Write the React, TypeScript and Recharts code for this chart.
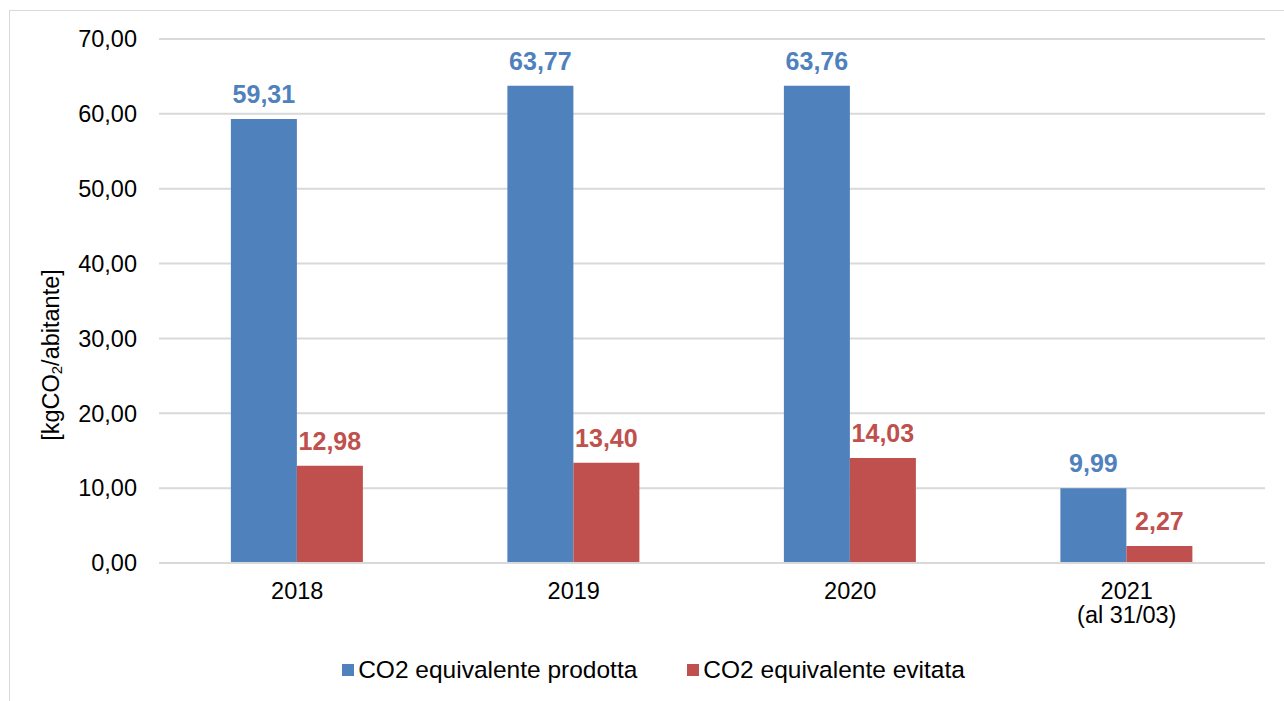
import { BarChart, Bar, XAxis, YAxis, CartesianGrid, Legend, LabelList } from 'recharts';

const years = ['2018', '2019', '2020', '2021'];
const yearNotes = ['', '', '', '(al 31/03)'];
const seriesNames = ['CO2 equivalente prodotta', 'CO2 equivalente evitata'];
const prodotta = [59.31, 63.77, 63.76, 9.99];
const evitata = [12.98, 13.4, 14.03, 2.27];
const yTicks = [0, 10, 20, 30, 40, 50, 60, 70];

const BLUE = '#4f81bd';
const RED = '#c0504d';
const colors = [BLUE, RED];
const FONT = '"Liberation Sans", Arial, sans-serif';
const FS = 23.5;

const data = years.map((y, i) => ({
  year: y,
  prodotta: prodotta[i],
  evitata: evitata[i],
}));

const fmt = (v: number) => v.toFixed(2).replace('.', ',');

function YearTick({ x, y, payload, index }: any) {
  const note = yearNotes[index ?? 0];
  return (
    <g>
      <text x={x} y={y} dy={36} textAnchor="middle" fill="#000" fontSize={FS} fontFamily={FONT}>
        {payload.value}
      </text>
      {note && (
        <text x={x} y={y} dy={60} textAnchor="middle" fill="#000" fontSize={FS} fontFamily={FONT}>
          {note}
        </text>
      )}
    </g>
  );
}

function AxisTitle() {
  const cx = 51;
  const cy = 355;
  return (
    <text
      x={cx}
      y={cy}
      transform={`rotate(-90 ${cx} ${cy})`}
      textAnchor="middle"
      dominantBaseline="central"
      fontSize={FS}
      fontFamily={FONT}
      fill="#000"
    >
      [kgCO<tspan fontSize={15} dy={5}>2</tspan>
      <tspan dy={-5}>/abitante]</tspan>
    </text>
  );
}

function LegendBox() {
  return (
    <div style={{ display: 'flex', justifyContent: 'center', gap: 50, height: 30, alignItems: 'center', paddingLeft: 42 }}>
      {seriesNames.map((name, i) => (
        <div key={name} style={{ display: 'flex', alignItems: 'center', fontFamily: FONT, fontSize: 24.5, color: '#000' }}>
          <span style={{ width: 12, height: 12, background: colors[i], display: 'inline-block', marginRight: 4 }} />
          {name}
        </div>
      ))}
    </div>
  );
}

export default function App() {
  return (
    <div style={{ position: 'absolute', left: 0, top: 0, width: 1284, height: 701, background: '#fff', overflow: 'hidden' }}>
      <div
        style={{
          position: 'absolute',
          left: 9,
          top: 10,
          width: 1300,
          height: 720,
          border: '1px solid #d9d9d9',
        }}
      />
      <BarChart
        width={1284}
        height={701}
        data={data}
        margin={{ top: 39, right: 19, left: 0, bottom: 48 }}
        barCategoryGap="26%"
        barGap={0}
      >
        <CartesianGrid vertical={false} stroke="#d9d9d9" strokeWidth={2} />
        <XAxis
          dataKey="year"
          tick={<YearTick />}
          tickLine={false}
          axisLine={{ stroke: '#d9d9d9', strokeWidth: 2 }}
          tickSize={0}
          tickMargin={0}
          height={60}
        />
        <YAxis
          domain={[0, 70]}
          ticks={yTicks}
          tickFormatter={fmt}
          tickLine={false}
          axisLine={false}
          tickSize={0}
          tickMargin={22}
          width={159}
          tick={{ fill: '#000', fontSize: FS, fontFamily: FONT }}
          label={<AxisTitle />}
        />
        <Legend verticalAlign="bottom" content={<LegendBox />} wrapperStyle={{ bottom: 16 }} />
        <Bar dataKey="prodotta" name={seriesNames[0]} fill={BLUE} isAnimationActive={false}>
          <LabelList
            dataKey="prodotta"
            position="top"
            offset={16}
            formatter={(v: any) => fmt(Number(v))}
            style={{ fill: BLUE, fontWeight: 'bold', fontSize: 25, fontFamily: FONT }}
          />
        </Bar>
        <Bar dataKey="evitata" name={seriesNames[1]} fill={RED} isAnimationActive={false}>
          <LabelList
            dataKey="evitata"
            position="top"
            offset={16}
            formatter={(v: any) => fmt(Number(v))}
            style={{ fill: RED, fontWeight: 'bold', fontSize: 25, fontFamily: FONT }}
          />
        </Bar>
      </BarChart>
    </div>
  );
}
